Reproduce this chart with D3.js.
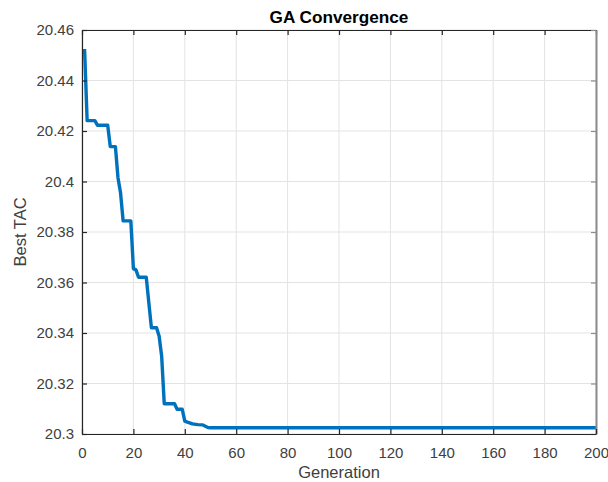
<!DOCTYPE html>
<html>
<head>
<meta charset="utf-8">
<script src="https://cdn.jsdelivr.net/npm/d3@7"></script>
<style>
  html, body { margin: 0; padding: 0; background: #fff; }
  svg { display: block; font-family: "Liberation Sans", Arial, sans-serif; }
</style>
</head>
<body>
<svg id="chart" width="608" height="482"></svg>
<script>
// Best total annualized cost per generation (vertices of the convergence trace)
const generations = [1, 2, 5, 6, 10, 11, 13, 14, 15, 16, 19, 20, 21, 22, 25, 26, 27, 29, 30, 31, 32, 36, 37, 39, 40, 41, 43, 45, 47, 48, 49, 50, 200];
const bestTAC = [20.4525, 20.4241, 20.4241, 20.4223, 20.4223, 20.4138, 20.4138, 20.4015, 20.3955, 20.3844, 20.3844, 20.3655, 20.3650, 20.3621, 20.3621, 20.3520, 20.3421, 20.3421, 20.3388, 20.3308, 20.3120, 20.3120, 20.3098, 20.3098, 20.3051, 20.3047, 20.3040, 20.3037, 20.3036, 20.3031, 20.3026, 20.3025, 20.3025];
const xTicks = [0, 20, 40, 60, 80, 100, 120, 140, 160, 180, 200];
const yTicks = [20.3, 20.32, 20.34, 20.36, 20.38, 20.4, 20.42, 20.44, 20.46];
const yTickLabels = ["20.3", "20.32", "20.34", "20.36", "20.38", "20.4", "20.42", "20.44", "20.46"];

const svg = d3.select("#chart");
const m = { left: 82, right: 596, top: 30, bottom: 434 };
const x = d3.scaleLinear().domain([0, 200]).range([m.left, m.right]);
const y = d3.scaleLinear().domain([20.3, 20.46]).range([m.bottom, m.top]);
const axisColor = "#262626";
const textColor = "#404040";

// grid
const grid = svg.append("g");
grid.selectAll(".gx").data(xTicks).join("line")
  .attr("x1", d => x(d)).attr("x2", d => x(d))
  .attr("y1", m.top).attr("y2", m.bottom)
  .attr("stroke", "#e3e3e3").attr("stroke-width", 1);
grid.selectAll(".gy").data(yTicks).join("line")
  .attr("x1", m.left).attr("x2", m.right)
  .attr("y1", d => y(d)).attr("y2", d => y(d))
  .attr("stroke", "#e3e3e3").attr("stroke-width", 1);

// convergence line
const pts = generations.map((g, i) => [g, bestTAC[i]]);
svg.append("path")
  .datum(pts)
  .attr("fill", "none")
  .attr("stroke", "#0072BD")
  .attr("stroke-width", 3.4)
  .attr("stroke-linejoin", "round")
  .attr("d", d3.line().x(d => x(d[0])).y(d => y(d[1])));

// axes (box with inward ticks)
const tickLen = 5;
const fmtY = d => yTickLabels[yTicks.indexOf(d)];
const bottomAxis = d3.axisBottom(x).tickValues(xTicks).tickSizeInner(-tickLen).tickSizeOuter(0).tickPadding(13);
const leftAxis = d3.axisLeft(y).tickValues(yTicks).tickFormat(fmtY).tickSizeInner(-tickLen).tickSizeOuter(0).tickPadding(8);
const topAxis = d3.axisTop(x).tickValues(xTicks).tickSizeInner(-tickLen).tickSizeOuter(0).tickFormat("");
const rightAxis = d3.axisRight(y).tickValues(yTicks).tickSizeInner(-tickLen).tickSizeOuter(0).tickFormat("");

function styleAxis(g, color) {
  g.selectAll(".domain").attr("stroke", color).attr("stroke-width", 1.2);
  g.selectAll(".tick line").attr("stroke", color).attr("stroke-width", 1.2);
  g.selectAll(".tick text").attr("fill", textColor).attr("font-size", 15)
    .attr("font-family", "'Liberation Sans', Arial, sans-serif");
}

svg.append("g").attr("transform", `translate(0,${m.top})`).call(topAxis).call(g => styleAxis(g, axisColor));
svg.append("g").attr("transform", `translate(${m.right},0)`).call(rightAxis).call(g => styleAxis(g, "#8c8c8c"))
  .selectAll(".domain").attr("stroke-width", 2);
svg.append("g").attr("transform", `translate(0,${m.bottom})`).call(bottomAxis).call(g => styleAxis(g, axisColor));
svg.append("g").attr("transform", `translate(${m.left},0)`).call(leftAxis).call(g => styleAxis(g, axisColor));

// labels
svg.append("text")
  .attr("x", (m.left + m.right) / 2).attr("y", 22.5)
  .attr("text-anchor", "middle").attr("font-size", 17.2).attr("font-weight", "bold")
  .attr("fill", "#000").text("GA Convergence");
svg.append("text")
  .attr("x", (m.left + m.right) / 2).attr("y", 477.5)
  .attr("text-anchor", "middle").attr("font-size", 16.5).attr("fill", textColor)
  .text("Generation");
svg.append("text")
  .attr("transform", `translate(26,${(m.top + m.bottom) / 2}) rotate(-90)`)
  .attr("text-anchor", "middle").attr("font-size", 16.5).attr("fill", textColor)
  .text("Best TAC");
</script>
</body>
</html>
